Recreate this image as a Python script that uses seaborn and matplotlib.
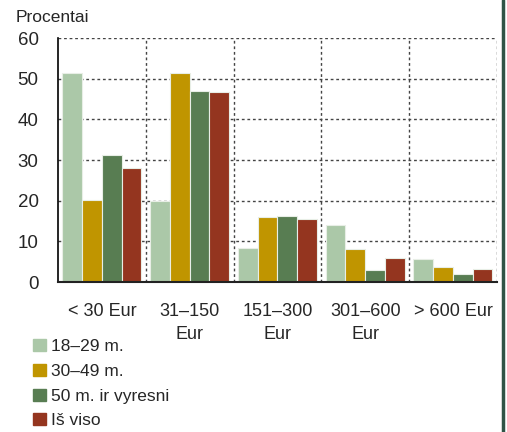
import pandas as pd
import matplotlib.pyplot as plt
import seaborn as sns

categories = ['< 30 Eur', '31–150\nEur', '151–300\nEur', '301–600\nEur', '> 600 Eur']
groups = ['18–29 m.', '30–49 m.', '50 m. ir vyresni', 'Iš viso']
v_18_29 = [51.4, 20.0, 8.5, 14.1, 5.7]
v_30_49 = [20.3, 51.4, 15.9, 8.1, 3.8]
v_50 = [31.3, 47.0, 16.2, 2.9, 2.1]
v_total = [28.0, 46.8, 15.5, 6.0, 3.1]
colors = ['#abc8a8', '#c09500', '#587d52', '#94351f']

rows = []
for g, vals in zip(groups, [v_18_29, v_30_49, v_50, v_total]):
    for c, v in zip(categories, vals):
        rows.append({'cat': c, 'grp': g, 'val': v})
df = pd.DataFrame(rows)

sns.set_style('white')
plt.rcParams['font.family'] = ['Liberation Sans', 'DejaVu Sans']

fig = plt.figure(figsize=(5.07, 4.32), dpi=100)
ax = fig.add_axes([0.1144, 0.347, 0.8656, 0.565])

sns.barplot(data=df, x='cat', y='val', hue='grp', palette=colors, saturation=1,
            width=0.9, gap=0, edgecolor='#e8eee6', linewidth=0.8,
            legend=False, ax=ax, zorder=3)

ax.set_ylim(0, 60)
ax.set_xlim(-0.5, 4.5)
ax.set_yticks(range(0, 61, 10))
ax.set_xlabel('')
ax.set_ylabel('')

# dotted grid lines, vertical ones between the groups
for y in range(10, 61, 10):
    ax.axhline(y, color='#444444', linestyle=(0, (2, 2)), linewidth=1, zorder=1)
for x in [0.5, 1.5, 2.5, 3.5, 4.5]:
    ax.axvline(x, color='#444444', linestyle=(0, (2, 2)), linewidth=1, zorder=1)

for s in ['top', 'right']:
    ax.spines[s].set_visible(False)
ax.spines['left'].set_color('black')
ax.spines['left'].set_linewidth(1.2)
ax.spines['bottom'].set_color('#222222')
ax.spines['bottom'].set_linewidth(1.5)
ax.spines['bottom'].set_zorder(5)

ax.tick_params(axis='y', length=0, pad=14, labelsize=13.5)
ax.tick_params(axis='x', length=0, pad=15, labelsize=13)
for t in ax.get_xticklabels():
    t.set_linespacing(1.5)

fig.text(0.03, 0.96, 'Procentai', fontsize=12.5, va='center', ha='left')

handles = [plt.Rectangle((0, 0), 1, 1, color=c) for c in colors]
fig.legend(handles, groups, loc='upper left', bbox_to_anchor=(0.066, 0.215),
           frameon=False, fontsize=12.5, handlelength=0.7, handleheight=0.7,
           handletextpad=0.3, labelspacing=0.55, borderpad=0, borderaxespad=0)

# dark border on the right edge
fig.add_artist(plt.Line2D([0.993, 0.993], [0, 1], color='#2f5446', linewidth=2.5,
                          transform=fig.transFigure))

fig.savefig('out.png', dpi=100)
